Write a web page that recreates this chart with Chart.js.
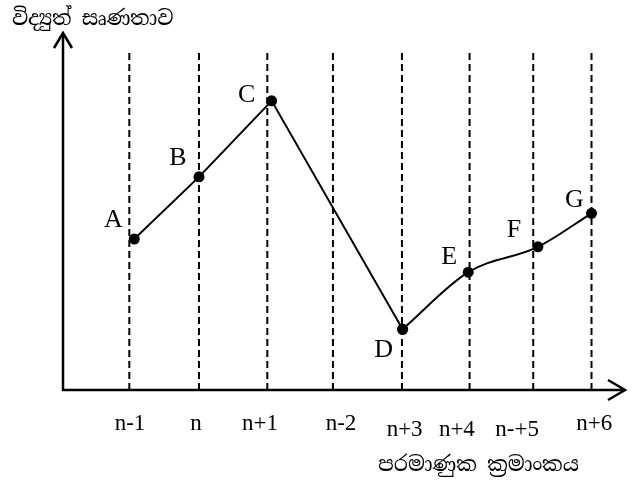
<!DOCTYPE html>
<html>
<head>
<meta charset="utf-8">
<script src="https://cdn.jsdelivr.net/npm/chart.js@4.4.1/dist/chart.umd.min.js"></script>
<style>
  html, body { margin: 0; padding: 0; background: #ffffff; }
  #wrap { position: relative; width: 637px; height: 482px; }
  canvas { display: block; }
</style>
</head>
<body>
<div id="wrap"><canvas id="c" width="637" height="482"></canvas></div>
<script>
// ---- data ----
const categories = ['n-1', 'n', 'n+1', 'n-2', 'n+3', 'n+4', 'n-+5', 'n+6'];
const gridX = [0.99, 2.03, 3.05, 4.03, 5.06, 6.07, 7.02, 7.89];       // dashed guide lines
const tickLabelX = [1.0, 1.985, 2.94, 4.15, 5.10, 5.88, 6.78, 7.93];   // where each category label sits
const tickLabelDrop = [0, 0, 0, 0, 1, 1, 1, 0];                        // labels that sit a little lower
const pointNames = ['A', 'B', 'C', 'D', 'E', 'F', 'G'];
const pointX = [1.064, 2.03, 3.115, 5.07, 6.05, 7.09, 7.89];
const pointY = [4.23, 5.97, 8.10, 1.70, 3.30, 4.01, 4.95];
const guideTop = 9.52;
const yTitle = 'විද්‍යුත් සෘණතාව';
const xTitle = 'පරමාණුක ක්‍රමාංකය';

const serif = '"Liberation Serif", "Times New Roman", serif';
const sinhala = '"Noto Serif Sinhala", "Iskoola Pota", "Noto Sans Sinhala", "Noto Sans", sans-serif';

// ---- datasets built from the arrays ----
const datasets = [];
gridX.forEach((gx) => {
  datasets.push({
    data: [{ x: gx, y: 0 }, { x: gx, y: guideTop }],
    borderColor: '#000',
    borderWidth: 2,
    borderDash: [7, 4],
    pointRadius: 0,
    tension: 0,
    order: 5
  });
});
const pts = pointX.map((x, i) => ({ x: x, y: pointY[i] }));
datasets.push({
  data: pts.slice(0, 4),
  borderColor: '#000',
  backgroundColor: '#000',
  borderWidth: 2,
  pointRadius: 5.5,
  pointBackgroundColor: '#000',
  pointBorderWidth: 0,
  tension: 0,
  order: 1
});
datasets.push({
  data: pts.slice(3),
  borderColor: '#000',
  backgroundColor: '#000',
  borderWidth: 2,
  pointRadius: 5.5,
  pointBackgroundColor: '#000',
  pointBorderWidth: 0,
  cubicInterpolationMode: 'monotone',
  order: 1
});

const labelOffsets = [[-21, -19], [-21, -19], [-25, -6], [-19, 21], [-19, -15], [-24, -17], [-17, -13]];

const decor = {
  id: 'decor',
  afterDraw(chart) {
    const ctx = chart.ctx;
    const a = chart.chartArea;
    const xs = chart.scales.x, ys = chart.scales.y;
    ctx.save();
    // axes
    ctx.strokeStyle = '#000';
    ctx.lineWidth = 2.5;
    ctx.lineCap = 'butt';
    ctx.beginPath();
    ctx.moveTo(a.left, a.top + 1);
    ctx.lineTo(a.left, a.bottom);
    ctx.lineTo(a.right - 1, a.bottom);
    ctx.stroke();
    // arrow heads
    ctx.lineWidth = 2.5;
    ctx.lineJoin = 'miter';
    ctx.beginPath();
    ctx.moveTo(a.left - 9, a.top + 15);
    ctx.lineTo(a.left, a.top);
    ctx.lineTo(a.left + 9, a.top + 15);
    ctx.stroke();
    ctx.beginPath();
    ctx.moveTo(a.right - 17, a.bottom - 10);
    ctx.lineTo(a.right, a.bottom);
    ctx.lineTo(a.right - 17, a.bottom + 10);
    ctx.stroke();

    // point names
    ctx.fillStyle = '#000';
    ctx.font = '26px ' + serif;
    ctx.textAlign = 'center';
    ctx.textBaseline = 'middle';
    pointNames.forEach((n, i) => {
      const px = xs.getPixelForValue(pointX[i]);
      const py = ys.getPixelForValue(pointY[i]);
      ctx.fillText(n, px + labelOffsets[i][0], py + labelOffsets[i][1]);
    });

    // category labels
    ctx.font = '23px ' + serif;
    categories.forEach((c, i) => {
      const px = xs.getPixelForValue(tickLabelX[i]);
      ctx.fillText(c, px, a.bottom + 34 + tickLabelDrop[i] * 6);
    });

    // titles
    ctx.font = '20.5px ' + sinhala;
    ctx.textAlign = 'left';
    ctx.fillText(yTitle, 12, 20);
    ctx.fillText(xTitle, 378, a.bottom + 76);
    ctx.restore();
  }
};

new Chart(document.getElementById('c'), {
  type: 'line',
  data: { datasets: datasets },
  options: {
    responsive: false,
    animation: false,
    devicePixelRatio: 1,
    layout: { padding: { left: 63, top: 33, right: 12, bottom: 92 } },
    plugins: { legend: { display: false }, tooltip: { enabled: false } },
    scales: {
      x: { type: 'linear', min: 0, max: 8.39, display: false },
      y: { type: 'linear', min: 0, max: 10, display: false }
    }
  },
  plugins: [decor]
});
</script>
</body>
</html>
